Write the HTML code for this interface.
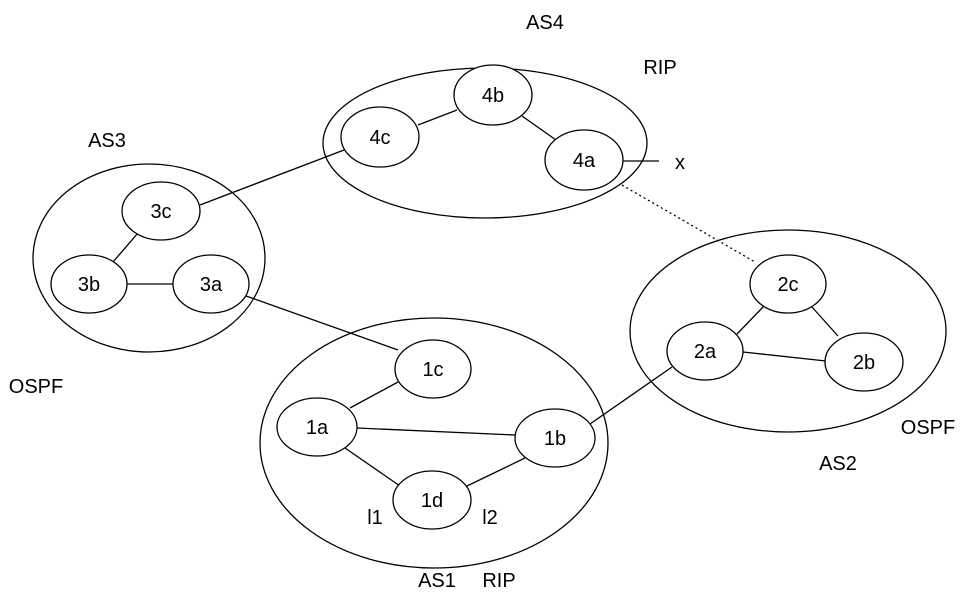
<!DOCTYPE html>
<html><head><style>html,body{margin:0;padding:0;background:#fff}</style></head>
<body>
<svg width="965" height="601" xmlns="http://www.w3.org/2000/svg" font-family="Liberation Sans, Arial, sans-serif" font-size="20">
<g fill="none" stroke="#000" stroke-width="1.3">
<ellipse cx="485" cy="143" rx="162" ry="75"/>
<ellipse cx="149" cy="258" rx="116" ry="94"/>
<ellipse cx="434" cy="443" rx="174" ry="125"/>
<ellipse cx="788" cy="331" rx="158" ry="101"/>
<line x1="418" y1="125" x2="457" y2="110"/>
<line x1="522" y1="116" x2="556" y2="140"/>
<line x1="623" y1="161" x2="659" y2="161"/>
<line x1="344" y1="150" x2="200" y2="205"/>
<line x1="138" y1="233" x2="113" y2="262"/>
<line x1="127" y1="284" x2="173" y2="284"/>
<line x1="246" y1="296" x2="398" y2="350"/>
<line x1="398" y1="382" x2="350" y2="408"/>
<line x1="357" y1="428" x2="515" y2="435"/>
<line x1="345" y1="448" x2="400" y2="486"/>
<line x1="467" y1="486" x2="525" y2="458"/>
<line x1="590" y1="424" x2="672" y2="367"/>
<line x1="737" y1="334" x2="764" y2="306"/>
<line x1="812" y1="307" x2="838" y2="336"/>
<line x1="743" y1="352" x2="826" y2="361"/>
<line x1="622" y1="185" x2="755" y2="262" stroke-dasharray="2,3"/>
</g>
<g fill="#fff" stroke="#000" stroke-width="1.3">
<ellipse cx="493" cy="95" rx="39" ry="30"/>
<ellipse cx="380" cy="137" rx="39" ry="30"/>
<ellipse cx="584" cy="160" rx="39" ry="30"/>
<ellipse cx="161" cy="211" rx="39" ry="29"/>
<ellipse cx="89" cy="284" rx="38" ry="29"/>
<ellipse cx="211" cy="284" rx="38" ry="29"/>
<ellipse cx="433" cy="369" rx="38" ry="29"/>
<ellipse cx="317" cy="427" rx="40" ry="29"/>
<ellipse cx="555" cy="438" rx="40" ry="29"/>
<ellipse cx="432" cy="500" rx="39" ry="29"/>
<ellipse cx="788" cy="284" rx="38" ry="29"/>
<ellipse cx="705" cy="351" rx="38" ry="29"/>
<ellipse cx="864" cy="362" rx="39" ry="29"/>
</g>
<g text-anchor="middle" fill="#000">
<text x="493" y="102">4b</text><text x="380" y="144">4c</text><text x="584" y="167">4a</text>
<text x="161" y="218">3c</text><text x="89" y="291">3b</text><text x="211" y="291">3a</text>
<text x="433" y="376">1c</text><text x="317" y="434">1a</text><text x="555" y="445">1b</text><text x="432" y="507">1d</text>
<text x="788" y="291">2c</text><text x="705" y="358">2a</text><text x="864" y="369">2b</text>
<text x="545" y="29">AS4</text><text x="660" y="74">RIP</text><text x="107" y="147">AS3</text>
<text x="680" y="169">x</text><text x="36" y="393">OSPF</text><text x="928" y="434">OSPF</text>
<text x="838" y="470">AS2</text><text x="375" y="524">l1</text><text x="490" y="524">l2</text>
<text x="437" y="587">AS1</text><text x="499" y="587">RIP</text>
</g>
</svg>
</body></html>
